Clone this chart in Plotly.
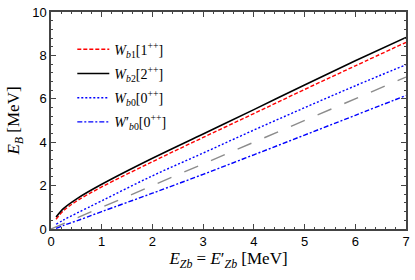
import plotly.graph_objects as go

# binding energies
e_zb = [0.1, 0.25, 0.5, 1, 2, 3, 4, 5, 6, 7]
wb1 = [0.45, 0.85, 1.28, 1.94, 3.1, 4.22, 5.32, 6.43, 7.52, 8.6]
wb2 = [0.55, 0.95, 1.38, 2.06, 3.26, 4.38, 5.5, 6.64, 7.75, 8.83]
wb0 = [0.22, 0.42, 0.72, 1.3, 2.45, 3.5, 4.56, 5.59, 6.6, 7.57]
wb0p = [0.03, 0.17, 0.37, 0.8, 1.65, 2.52, 3.42, 4.33, 5.24, 6.15]
diag_x = [0, 7]
diag_y = [0, 7]

serif = "Liberation Serif"
sans = "Liberation Sans"

fig = go.Figure()
fig.add_trace(go.Scatter(x=diag_x, y=diag_y, mode="lines", showlegend=False,
                         line=dict(color="#8c8c8c", width=1.4, dash="15px,14px")))
fig.add_trace(go.Scatter(x=e_zb, y=wb1, mode="lines", line_shape="spline", legendgroup="a",
                         name="<i>W</i><sub><i>b</i>1</sub>[1<sup>++</sup>]",
                         line=dict(color="#ff0000", width=1.4, dash="4px,2px")))
fig.add_trace(go.Scatter(x=e_zb, y=wb2, mode="lines", line_shape="spline", legendgroup="b",
                         name="<i>W</i><sub><i>b</i>2</sub>[2<sup>++</sup>]",
                         line=dict(color="black", width=1.6)))
fig.add_trace(go.Scatter(x=e_zb, y=wb0, mode="lines", line_shape="spline", legendgroup="c",
                         name="<i>W</i><sub><i>b</i>0</sub>[0<sup>++</sup>]",
                         line=dict(color="#0000ff", width=1.4, dash="2px,2px")))
fig.add_trace(go.Scatter(x=e_zb, y=wb0p, mode="lines", line_shape="spline", legendgroup="d",
                         name="<i>W</i>\u2032<sub><i>b</i>0</sub>[0<sup>++</sup>]",
                         line=dict(color="#0000ff", width=1.4, dash="5px,2px,2px,2px")))

axis_style = dict(
    showline=True, linecolor="#444", linewidth=1.5, mirror="allticks",
    ticks="inside", ticklen=5, tickcolor="#444", tickwidth=1,
    showgrid=False, zeroline=False, ticklabeloverflow="allow",
    tickfont=dict(family=sans, size=13, color="black"),
)

fig.update_xaxes(range=[0, 7], dtick=1,
                 minor=dict(dtick=0.2, ticks="inside", ticklen=2.5, tickcolor="#444"),
                 title=dict(text="<i>E</i><sub><i>Zb</i></sub> = <i>E</i>\u2032<sub><i>Zb</i></sub> [MeV]",
                            font=dict(family=serif, size=17, color="black"), standoff=4),
                 **axis_style)
fig.update_yaxes(range=[0, 10], dtick=2,
                 minor=dict(dtick=0.4, ticks="inside", ticklen=2.5, tickcolor="#444"),
                 title=dict(text="<i>E</i><sub><i>B</i></sub> [MeV]",
                            font=dict(family=serif, size=17, color="black"), standoff=8),
                 **axis_style)

fig.update_layout(
    width=415, height=280,
    margin=dict(l=51, r=5, t=7, b=51),
    plot_bgcolor="white", paper_bgcolor="white",
    legend=dict(x=0.06, y=0.9, xanchor="left", yanchor="top",
                font=dict(family=serif, size=14, color="black"),
                bgcolor="rgba(0,0,0,0)", tracegroupgap=3, itemwidth=32),
)

# the page's default body margin would push the figure off by 8px
fig.write_html("out.html", config={"displayModeBar": False},
               post_script="document.body.style.margin='0';")
